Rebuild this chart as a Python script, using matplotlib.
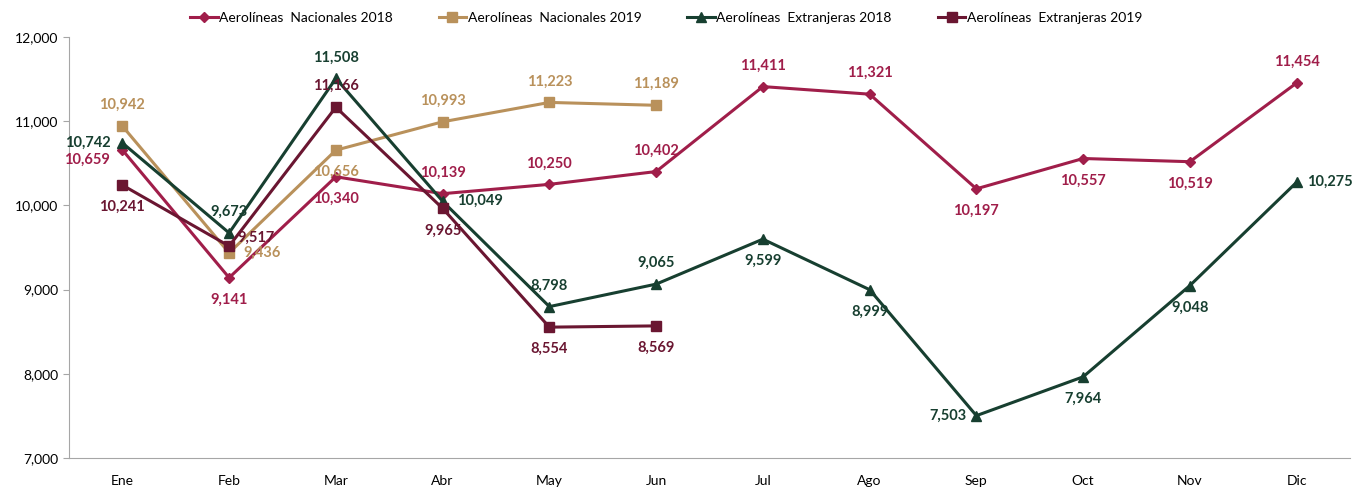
import matplotlib.pyplot as plt

plt.rcParams['font.family'] = ['Lato', 'DejaVu Sans']

# datos
meses = ['Ene', 'Feb', 'Mar', 'Abr', 'May', 'Jun', 'Jul', 'Ago', 'Sep', 'Oct', 'Nov', 'Dic']
nac_2018 = [10659, 9141, 10340, 10139, 10250, 10402, 11411, 11321, 10197, 10557, 10519, 11454]
nac_2019 = [10942, 9436, 10656, 10993, 11223, 11189]
ext_2018 = [10742, 9673, 11508, 10049, 8798, 9065, 9599, 8999, 7503, 7964, 9048, 10275]
ext_2019 = [10241, 9517, 11166, 9965, 8554, 8569]

# posicion de etiquetas: (dx, dy en pixeles, alineacion)
A = (0, 21, 'center')
B = (0, -22, 'center')
pos_nac18 = [(-12, -10, 'right'), B, B, A, A, A, A, A, B, B, B, A]
pos_nac19 = [A, (14, 0, 'left'), B, A, A, A]
pos_ext18 = [(-12, 0, 'right'), A, A, (14, 0, 'left'), A, A, B, B, (-10, 0, 'right'), B, B, (10, 0, 'left')]
pos_ext19 = [B, (8, 8, 'left'), A, B, B, B]

series = [
    ('Aerolíneas  Nacionales 2018', nac_2018, '#A01E4A', 'D', 5.5, pos_nac18),
    ('Aerolíneas  Nacionales 2019', nac_2019, '#B9915B', 's', 7, pos_nac19),
    ('Aerolíneas  Extranjeras 2018', ext_2018, '#173F30', '^', 7, pos_ext18),
    ('Aerolíneas  Extranjeras 2019', ext_2019, '#6A1631', 's', 7, pos_ext19),
]

fig = plt.figure(figsize=(13.59, 4.87), dpi=100)
ax = fig.add_axes([69/1359, 29/487, 1281/1359, 421/487])

x = list(range(len(meses)))
for nombre, vals, color, mk, ms, pos in series:
    xs = x[:len(vals)]
    ax.plot(xs, vals, color=color, marker=mk, markersize=ms, linewidth=2.2, label=nombre)
    for xi, v, (dx, dy, ha) in zip(xs, vals, pos):
        ax.annotate(f'{v:,}', (xi, v), xytext=(dx, dy), textcoords='offset pixels',
                    ha=ha, va='center', fontsize=10.5, fontweight='bold', color=color)

ax.set_xlim(-0.5, 11.5)
ax.set_ylim(7000, 12000)
ax.set_yticks(range(7000, 12001, 1000))
ax.yaxis.set_major_formatter(plt.FuncFormatter(lambda v, p: f'{int(v):,}'))
ax.set_xticks(x)
ax.set_xticklabels(meses)
ax.tick_params(axis='x', length=0, pad=12, labelsize=10)
ax.tick_params(axis='y', length=4, color='#A6A6A6', labelsize=10)
for s in ['top', 'right']:
    ax.spines[s].set_visible(False)
for s in ['left', 'bottom']:
    ax.spines[s].set_color('#A6A6A6')

fig.legend(loc='center', bbox_to_anchor=(666/1359, 1 - 18/487), ncol=4, frameon=False,
           fontsize=10, handlelength=2.0, handletextpad=0.1, columnspacing=3.3)

fig.savefig('out.png', dpi=100)
